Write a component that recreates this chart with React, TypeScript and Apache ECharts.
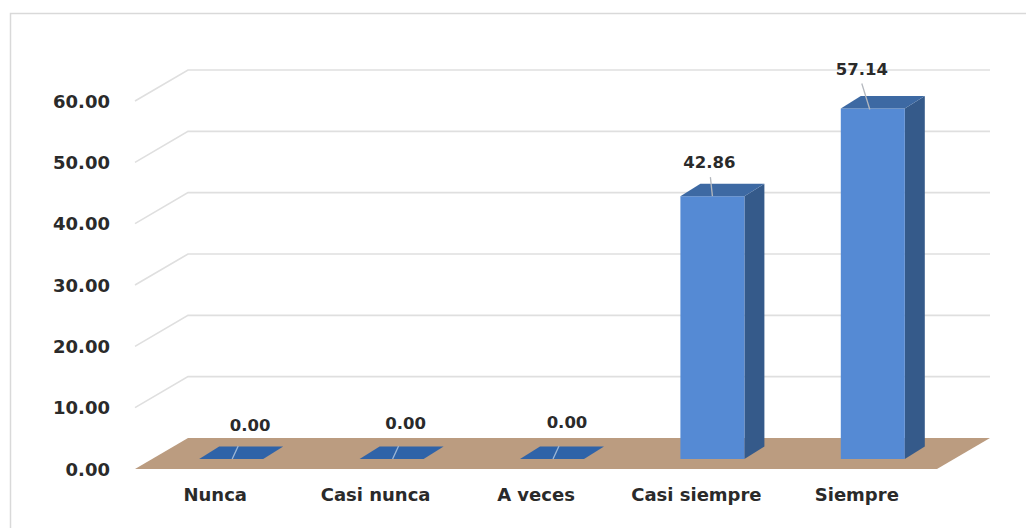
import React, { useEffect, useRef } from "react";
import * as echarts from "echarts";

const categories = ["Nunca", "Casi nunca", "A veces", "Casi siempre", "Siempre"];
const percentages = [0, 0, 0, 42.86, 57.14];
const yTicks = [0, 10, 20, 30, 40, 50, 60];

// Pixel layout of the pseudo-3D scene.
const WIDTH = 1026;
const HEIGHT = 528;
const FRONT_LEFT = 135;
const FRONT_RIGHT = 937;
const FRONT_TOP = 101;
const FRONT_BOTTOM = 469;
const WALL_DX = 53;
const WALL_DY = 31;
const BAR_WIDTH = 64;
const BAR_SHIFT_X = 16;
const BAR_SHIFT_Y = 10;
const BAR_DX = 20;
const BAR_DY = 12.5;

// Per-bar label placement relative to the top of the bar's front face,
// and the points on the bar's top where each leader line starts and lands.
const labelOffsets: [number, number][] = [
  [19, -34],
  [14, -36],
  [15, -37],
  [-3, -34],
  [-11, -39],
];
const leaderStart: [number, number][] = [
  [7, -13],
  [7, -13],
  [7, -13],
  [-2, -19],
  [-11, -25],
];
const leaderEnd: [number, number][] = [
  [1, 0],
  [1, 0],
  [1, 0],
  [0, 0],
  [-3, 1],
];

const FONT = "DejaVu Sans";
const TEXT_COLOR = "#2a2a2a";

const renderWalls = (params: any, api: any) => {
  const value = api.value(0);
  const [, y] = api.coord(["Nunca", value]);
  const points = [
    [FRONT_LEFT, y],
    [FRONT_LEFT + WALL_DX, y - WALL_DY],
    [FRONT_RIGHT + WALL_DX, y - WALL_DY],
  ];
  return {
    type: "polyline",
    shape: { points },
    style: { fill: "none", stroke: "#dfdfdf", lineWidth: 1.6 },
    silent: true,
  };
};

const renderFloor = (params: any, api: any) => {
  const [, y] = api.coord(["Nunca", 0]);
  return {
    type: "polygon",
    shape: {
      points: [
        [FRONT_LEFT, y],
        [FRONT_RIGHT, y],
        [FRONT_RIGHT + WALL_DX, y - WALL_DY],
        [FRONT_LEFT + WALL_DX, y - WALL_DY],
      ],
    },
    style: { fill: "#bb9c80" },
    silent: true,
  };
};

const renderBar = (params: any, api: any) => {
  const index = api.value(0);
  const value = api.value(1);
  const [cx, yTop0] = api.coord([index, value]);
  const [, yBase0] = api.coord([index, 0]);
  const xL = cx + BAR_SHIFT_X - BAR_WIDTH / 2;
  const xR = xL + BAR_WIDTH;
  const yTop = yTop0 - BAR_SHIFT_Y;
  const yBase = yBase0 - BAR_SHIFT_Y;
  const children: any[] = [];
  if (value > 0) {
    children.push(
      {
        type: "polygon",
        shape: {
          points: [
            [xR, yTop],
            [xR + BAR_DX, yTop - BAR_DY],
            [xR + BAR_DX, yBase - BAR_DY],
            [xR, yBase],
          ],
        },
        style: { fill: "#355a8a" },
      },
      {
        type: "rect",
        shape: { x: xL, y: yTop, width: BAR_WIDTH, height: yBase - yTop },
        style: { fill: "#558ad4" },
      },
    );
  }
  children.push({
    type: "polygon",
    shape: {
      points: [
        [xL, yTop],
        [xR, yTop],
        [xR + BAR_DX, yTop - BAR_DY],
        [xL + BAR_DX, yTop - BAR_DY],
      ],
    },
    style: { fill: value > 0 ? "#3d69a3" : "#2f63a8" },
  });
  const barMid = (xL + xR) / 2;
  const start = leaderStart[index];
  const end = leaderEnd[index];
  children.push({
    type: "line",
    shape: {
      x1: barMid + start[0],
      y1: yTop + start[1],
      x2: barMid + end[0],
      y2: yTop + end[1],
    },
    style: { stroke: value > 0 ? "#b4b8be" : "#9db7d6", lineWidth: 1.3 },
  });
  const offset = labelOffsets[index];
  children.push({
    type: "text",
    x: barMid + offset[0],
    y: yTop + offset[1],
    style: {
      text: value.toFixed(2),
      fontFamily: FONT,
      fontWeight: "bold",
      fontSize: 16.5,
      fill: TEXT_COLOR,
      align: "center",
      verticalAlign: "middle",
    },
  });
  return { type: "group", children, silent: true };
};

export default function App() {
  const ref = useRef<HTMLDivElement>(null);

  useEffect(() => {
    document.body.style.margin = "0";
    document.body.style.background = "#ffffff";
    const chart = echarts.init(ref.current!, null, { renderer: "svg" });
    chart.setOption({
      animation: false,
      backgroundColor: "#ffffff",
      graphic: [
        {
          // Frame: only its top and left edges fall inside the canvas.
          type: "rect",
          z: -1,
          shape: { x: 10.5, y: 13.5, width: 1040, height: 540 },
          style: { fill: "none", stroke: "#d9d9d9", lineWidth: 1.5 },
          silent: true,
        },
      ],
      grid: {
        left: FRONT_LEFT,
        right: WIDTH - FRONT_RIGHT,
        top: FRONT_TOP,
        bottom: HEIGHT - FRONT_BOTTOM,
      },
      xAxis: {
        type: "category",
        data: categories,
        axisLine: { show: false },
        axisTick: { show: false },
        axisLabel: {
          interval: 0,
          margin: 16,
          fontFamily: FONT,
          fontWeight: "bold",
          fontSize: 18,
          color: TEXT_COLOR,
        },
      },
      yAxis: {
        type: "value",
        min: 0,
        max: 60,
        interval: 10,
        splitLine: { show: false },
        axisLine: { show: false },
        axisTick: { show: false },
        axisLabel: {
          margin: 25,
          fontFamily: FONT,
          fontWeight: "bold",
          fontSize: 18,
          color: TEXT_COLOR,
          formatter: (v: number) => v.toFixed(2),
        },
      },
      series: [
        {
          type: "custom",
          renderItem: renderWalls,
          data: yTicks.filter((t) => t > 0).map((t) => [t]),
          encode: { y: 0 },
          z: 1,
          silent: true,
          clip: false,
        },
        {
          type: "custom",
          renderItem: renderFloor,
          data: [[0]],
          encode: { y: 0 },
          z: 2,
          silent: true,
          clip: false,
        },
        {
          type: "custom",
          renderItem: renderBar,
          data: percentages.map((v, i) => [i, v]),
          encode: { x: 0, y: 1 },
          z: 3,
          silent: true,
          clip: false,
        },
      ],
    });
    return () => chart.dispose();
  }, []);

  return <div ref={ref} style={{ width: WIDTH, height: HEIGHT }} />;
}
